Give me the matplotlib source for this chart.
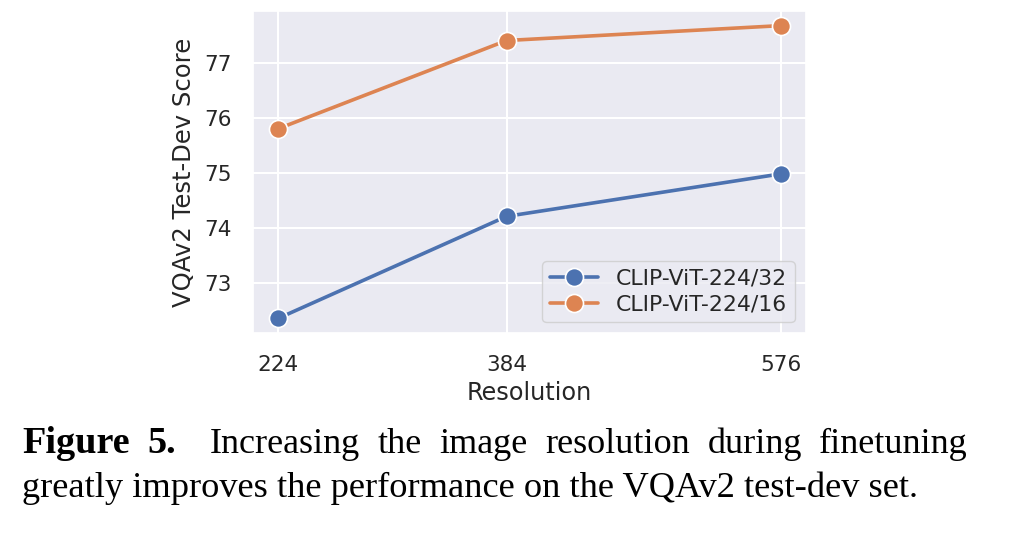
import matplotlib
matplotlib.use("Agg")
import matplotlib.pyplot as plt
import seaborn as sns

# data
resolution = [224, 384, 576]
score_vit32 = [72.36, 74.21, 74.98]
score_vit16 = [75.80, 77.40, 77.67]
series_names = ["CLIP-ViT-224/32", "CLIP-ViT-224/16"]

caption_bold = ["Figure", "5."]
caption_line1 = "Increasing the image resolution during finetuning"
caption_line2 = "greatly improves the performance on the VQAv2 test-dev set."

sns.set_theme(style="darkgrid")
plt.rcParams['font.family'] = ['DejaVu Sans']
colors = sns.color_palette("deep")

fig = plt.figure(figsize=(10.27, 5.34), dpi=100)
ax = fig.add_axes([0.2464, 0.3764, 0.5381, 0.6030])

for values, name, c in zip([score_vit32, score_vit16], series_names, colors[:2]):
    ax.plot(resolution, values, color=c, linewidth=2.6, marker="o",
            markersize=13, markeredgecolor="white", markeredgewidth=1.2, label=name)

ax.set_xticks(resolution)
ax.set_xticklabels([str(r) for r in resolution])
ax.set_yticks([73, 74, 75, 76, 77])
ax.tick_params(axis="both", labelsize=15.5, length=0, pad=15.5, colors="#262626")
ax.set_xlabel("Resolution", fontsize=17.3, labelpad=5, color="#262626")
ax.set_ylabel("VQAv2 Test-Dev Score", fontsize=17.5, labelpad=6, color="#262626")
ax.grid(color="white", linewidth=1.5)

leg = ax.legend(loc="lower right", fontsize=15.8, handlelength=2.2,
                borderpad=0.35, labelspacing=0.25, handletextpad=0.8)
leg.get_frame().set_edgecolor("#cccccc")

# caption, line 1 justified across the width
serif = "Liberation Serif"
csize = 26
body_px, right_px = 210, 968
base1 = 1 - 453 / 534
base2 = 1 - 497 / 534
W = fig.get_figwidth() * fig.dpi

renderer = fig.canvas.get_renderer()
for word, xpx in zip(caption_bold, [22, 147]):
    fig.text(xpx / W, base1, word, fontsize=27.5, family=serif,
             weight="bold", color="black", va="baseline", ha="left")
texts = []
for w in caption_line1.split():
    t = fig.text(0, base1, w, fontsize=csize, family=serif,
                 color="black", va="baseline", ha="left")
    texts.append(t)
widths = [t.get_window_extent(renderer).width for t in texts]
gap = (right_px - body_px - sum(widths)) / (len(texts) - 1)
x = body_px
for t, wd in zip(texts, widths):
    t.set_x(x / W)
    x += wd + gap

fig.text(22 / W, base2, caption_line2, fontsize=26.2, family=serif,
         color="black", va="baseline", ha="left")

fig.savefig("out.png", dpi=100)
